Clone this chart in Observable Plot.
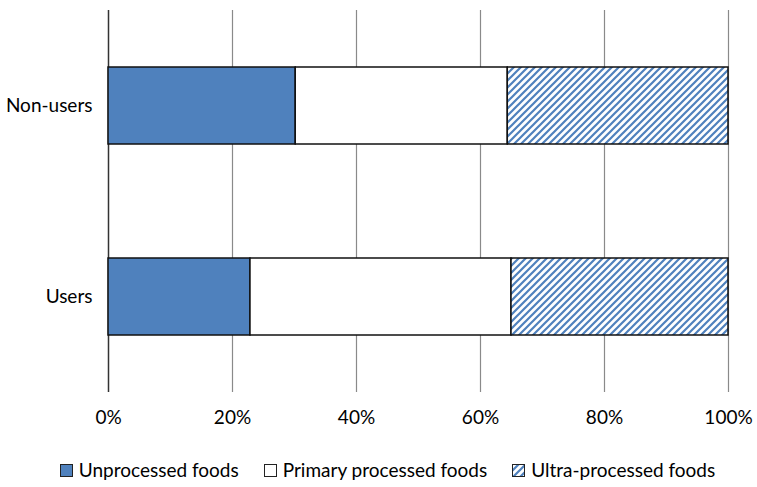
<!DOCTYPE html>
<html>
<head>
<meta charset="utf-8">
<script src="https://cdn.jsdelivr.net/npm/d3@7"></script>
<script src="https://cdn.jsdelivr.net/npm/@observablehq/plot@0.6"></script>
<style>
  body { margin: 0; background: #fff; font-family: Lato, "Open Sans", sans-serif; }
  #legend { display: flex; justify-content: center; gap: 25px; margin-top: 19px; font-size: 19px; line-height: 22px; color: #000; padding-left: 18px; }
  #legend span.item { display: inline-flex; align-items: center; gap: 6px; }
</style>
</head>
<body>
<div id="chart"></div>
<script>
const groups = ["Non-users", "Users"];
const categories = ["Unprocessed foods", "Primary processed foods", "Ultra-processed foods"];
const nonUsersValues = [30.2, 34.2, 35.6];
const usersValues = [22.9, 42.1, 35.0];
const xTicks = [0, 20, 40, 60, 80, 100];

const blue = "#4F81BD";
const fills = [blue, "#ffffff", "url(#hatch)"];

const data = [];
[nonUsersValues, usersValues].forEach((vals, gi) => {
  vals.forEach((v, ci) => data.push({group: groups[gi], cat: categories[ci], value: v}));
});

const plot = Plot.plot({
  width: 757,
  height: 440,
  marginLeft: 108,
  marginRight: 29,
  marginTop: 10,
  marginBottom: 48,
  style: {fontFamily: "Lato, 'Open Sans', sans-serif", fontSize: "19px", color: "#000", background: "#fff"},
  x: {domain: [0, 100], ticks: xTicks, tickFormat: d => d + "%", tickSize: 0, tickPadding: 18, label: null},
  y: {domain: groups, paddingInner: 0.597, paddingOuter: 0.2985, tickSize: 0, tickPadding: 16, label: null},
  color: {domain: categories, range: fills},
  marks: [
    Plot.ruleX(xTicks.filter(d => d > 0), {stroke: "#8a8a8a", strokeWidth: 1.2}),
    Plot.ruleX([0], {stroke: "#333", strokeWidth: 1.5}),
    Plot.barX(data, Plot.stackX({x: "value", y: "group", fill: "cat", order: categories, stroke: "#111", strokeWidth: 1.5, inset: 0})),
    Plot.axisX({ticks: xTicks, tickFormat: d => d + "%", tickSize: 0, tickPadding: 18, fontSize: 19}),
    Plot.axisY({tickSize: 0, tickPadding: 16, fontSize: 19})
  ]
});

const ns = "http://www.w3.org/2000/svg";
const defs = document.createElementNS(ns, "defs");
defs.innerHTML = `<pattern id="hatch" patternUnits="userSpaceOnUse" width="7" height="7">
  <rect width="7" height="7" fill="#fff"/>
  <path d="M-1,1 l2,-2 M0,7 l7,-7 M6,8 l2,-2" stroke="${blue}" stroke-width="2.2"/>
</pattern>`;
plot.insertBefore(defs, plot.firstChild);
document.getElementById("chart").appendChild(plot);

const legend = document.createElement("div");
legend.id = "legend";
categories.forEach((c, i) => {
  const item = document.createElement("span");
  item.className = "item";
  item.innerHTML = `<svg width="13" height="13" style="overflow:visible"><rect x="0.5" y="0.5" width="12" height="12" fill="${fills[i]}" stroke="#222" stroke-width="1"/></svg><span>${c}</span>`;
  legend.appendChild(item);
});
document.body.appendChild(legend);
</script>
</body>
</html>
